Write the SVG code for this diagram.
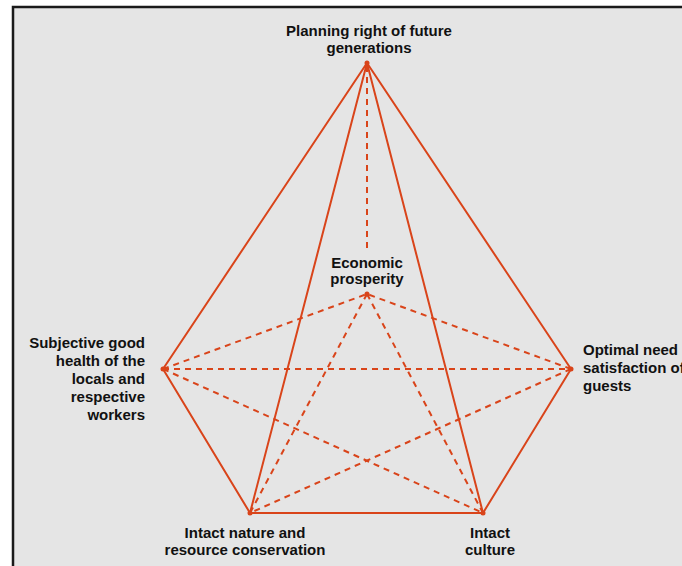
<svg xmlns="http://www.w3.org/2000/svg" width="682" height="566" viewBox="0 0 682 566">
<style>
.bg{fill:#e5e5e5}
.frame{stroke:#1a1a1a;stroke-width:2.5;fill:none}
.s{stroke:#d9441a;stroke-width:2;fill:none;stroke-linecap:round}
.d{stroke:#d9441a;stroke-width:2;fill:none;stroke-dasharray:6 5}
.v{fill:#d9441a}
text{font-family:"Liberation Sans",Arial,sans-serif;font-weight:bold;font-size:15px;fill:#111}
.m{text-anchor:middle}
.e{text-anchor:end}
</style>
<rect x="0" y="0" width="682" height="566" fill="#ffffff"/>
<rect class="bg" x="13" y="7" width="669" height="559"/>
<path class="frame" d="M13,566 V7 H682"/>
<g id="connectors">
<line class="s" x1="367" y1="63" x2="163" y2="369"/>
<line class="s" x1="367" y1="63" x2="571" y2="369"/>
<line class="s" x1="367" y1="63" x2="250" y2="513"/>
<line class="s" x1="367" y1="63" x2="483" y2="513"/>
<line class="s" x1="163" y1="369" x2="250" y2="513"/>
<line class="s" x1="571" y1="369" x2="483" y2="513"/>
<line class="s" x1="250" y1="513" x2="483" y2="513"/>
<line class="d" x1="367" y1="66" x2="367" y2="250"/>
<line class="d" x1="163" y1="369" x2="571" y2="369"/>
<line class="d" x1="163" y1="369" x2="367" y2="294"/>
<line class="d" x1="571" y1="369" x2="367" y2="294"/>
<line class="d" x1="163" y1="369" x2="483" y2="513"/>
<line class="d" x1="571" y1="369" x2="250" y2="513"/>
<line class="d" x1="367" y1="294" x2="250" y2="513"/>
<line class="d" x1="367" y1="294" x2="483" y2="513"/>
</g>
<g id="node-future">
<circle class="v" cx="367" cy="63" r="2.5"/>
<text class="m" x="369" y="36">Planning right of future</text>
<text class="m" x="369" y="53">generations</text>
</g>
<g id="node-economic">
<circle class="v" cx="367" cy="294" r="2.5"/>
<text class="m" x="367" y="268">Economic</text>
<text class="m" x="367" y="284">prosperity</text>
</g>
<g id="node-health">
<circle class="v" cx="163" cy="369" r="2.5"/>
<text class="e" x="145" y="348">Subjective good</text>
<text class="e" x="145" y="366">health of the</text>
<text class="e" x="145" y="384">locals and</text>
<text class="e" x="145" y="402">respective</text>
<text class="e" x="145" y="420">workers</text>
</g>
<g id="node-guests">
<circle class="v" cx="571" cy="369" r="2.5"/>
<text x="583" y="355">Optimal need</text>
<text x="583" y="373">satisfaction of</text>
<text x="583" y="391">guests</text>
</g>
<g id="node-nature">
<circle class="v" cx="250" cy="513" r="2.5"/>
<text class="m" x="245" y="538">Intact nature and</text>
<text class="m" x="245" y="555">resource conservation</text>
</g>
<g id="node-culture">
<circle class="v" cx="483" cy="513" r="2.5"/>
<text class="m" x="490" y="538">Intact</text>
<text class="m" x="490" y="555">culture</text>
</g>
</svg>
